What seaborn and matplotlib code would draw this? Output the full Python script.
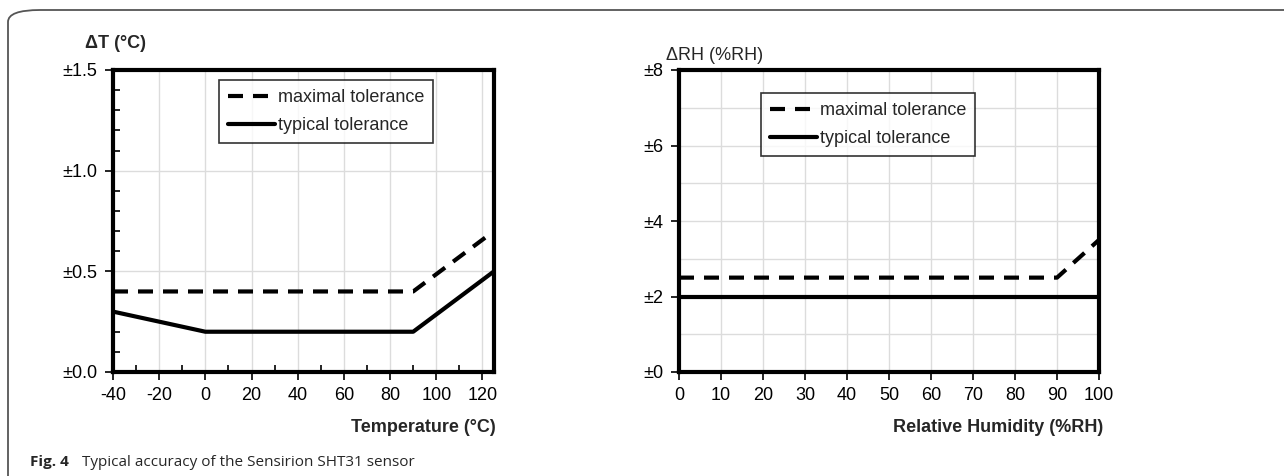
import matplotlib
matplotlib.use("Agg")
import matplotlib.pyplot as plt
import seaborn as sns
import pandas as pd
import numpy as np
from matplotlib import font_manager
from matplotlib.patches import FancyBboxPatch
from matplotlib.ticker import FixedLocator, FuncFormatter, MultipleLocator

# ---- data ----
temp_x = [-40, 0, 90, 125]
temp_max = [0.4, 0.4, 0.4, 0.7]
temp_typ = [0.3, 0.2, 0.2, 0.5]
rh_x = [0, 90, 100]
rh_max = [2.5, 2.5, 3.5]
rh_typ = [2.0, 2.0, 2.0]
temp_xticks = [-40, -20, 0, 20, 40, 60, 80, 100, 120]
temp_yticks = [0.0, 0.5, 1.0, 1.5]
rh_xticks = list(range(0, 101, 10))
rh_yticks = [0, 2, 4, 6, 8]
series_names = ["maximal tolerance", "typical tolerance"]

sns.set_theme(style="white")
names = {f.name for f in font_manager.fontManager.ttflist}
narrow = "Liberation Sans Narrow" if "Liberation Sans Narrow" in names else "Liberation Sans"
plt.rcParams["font.family"] = [narrow, "DejaVu Sans"]

W, H = 1284, 476
fig = plt.figure(figsize=(W / 100, H / 100), dpi=100)

def ax_rect(x0, x1, ytop, ybot):
    return [x0 / W, 1 - ybot / H, (x1 - x0) / W, (ybot - ytop) / H]

axL = fig.add_axes(ax_rect(113, 494, 70, 372))
axR = fig.add_axes(ax_rect(679, 1099, 70, 372))

dash = (3.6, 2.4)
lw = 3

dfT = pd.DataFrame({"x": temp_x * 2, "y": temp_max + temp_typ,
                    "s": [series_names[0]] * 4 + [series_names[1]] * 4})
dfR = pd.DataFrame({"x": rh_x * 2, "y": rh_max + rh_typ,
                    "s": [series_names[0]] * 3 + [series_names[1]] * 3})

for ax, df in [(axL, dfT), (axR, dfR)]:
    sns.lineplot(data=df, x="x", y="y", style="s", style_order=series_names,
                 dashes={series_names[0]: dash, series_names[1]: ""},
                 color="black", lw=lw, ax=ax, legend=True, zorder=3)
    for sp in ax.spines.values():
        sp.set_visible(True)
        sp.set_color("black")
        sp.set_linewidth(3)
    ax.set_xlabel("")
    ax.set_ylabel("")

# left axes
axL.set_xlim(-40, 125)
axL.set_ylim(0, 1.5)
axL.set_xticks(temp_xticks)
axL.set_yticks(temp_yticks)
axL.yaxis.set_major_formatter(FuncFormatter(lambda v, p: f"±{v:.1f}"))
axL.xaxis.set_major_formatter(FuncFormatter(lambda v, p: f"{v:.0f}"))
axL.xaxis.set_minor_locator(MultipleLocator(10))
axL.yaxis.set_minor_locator(MultipleLocator(0.1))
axL.tick_params(which="major", direction="out", length=6, width=1.2, colors="black",
                labelsize=13, bottom=True, left=True, pad=5)
axL.tick_params(which="minor", direction="in", length=5, width=1.2, colors="black",
                bottom=True, left=True)
for v in temp_xticks[1:]:
    axL.axvline(v, color="#dcdcdc", lw=1, zorder=1)
for v in [0.5, 1.0]:
    axL.axhline(v, color="#dcdcdc", lw=1, zorder=1)

# right axes
axR.set_xlim(0, 100)
axR.set_ylim(0, 8)
axR.set_xticks(rh_xticks)
axR.set_yticks(rh_yticks)
axR.yaxis.set_major_formatter(FuncFormatter(lambda v, p: f"±{v:.0f}"))
axR.tick_params(which="major", direction="out", length=6, width=1.2, colors="black",
                labelsize=13, bottom=True, left=True, pad=5)
for v in rh_xticks[1:-1]:
    axR.axvline(v, color="#dcdcdc", lw=1, zorder=1)
for v in range(1, 8):
    axR.axhline(v, color="#dcdcdc", lw=1, zorder=1)

# legends
for ax, loc in [(axL, (219, 80, 414, 152)), (axR, (761, 93, 1013, 157))]:
    h, l = ax.get_legend_handles_labels()
    x0, y0, x1, y1 = loc
    leg = ax.legend(h, l, loc="upper left",
                    bbox_to_anchor=(x0 / W, 1 - y0 / H), bbox_transform=fig.transFigure,
                    fontsize=13, frameon=True, fancybox=False, edgecolor="black",
                    handlelength=2.6, handletextpad=0.15, borderpad=0.5,
                    labelspacing=0.6, borderaxespad=0)
    leg.get_frame().set_linewidth(1.2)
    for ln in leg.get_lines():
        ln.set_linewidth(3)

# axis titles
fig.text(85 / W, 1 - 43 / H, "ΔT (°C)", fontsize=13, fontweight="bold",
         ha="left", va="center")
fig.text(666 / W, 1 - 55 / H, "ΔRH (%RH)", fontsize=13, ha="left", va="center")
fig.text(496 / W, 1 - 428 / H, "Temperature (°C)", fontsize=13, fontweight="bold",
         ha="right", va="center")
fig.text(1103 / W, 1 - 428 / H, "Relative Humidity (%RH)", fontsize=13,
         fontweight="bold", ha="right", va="center")

# caption
cap_font = ["Open Sans", "DejaVu Sans"]
fig.text(30 / W, 1 - 462 / H, "Fig. 4", fontsize=11, fontweight="bold",
         family=cap_font, ha="left", va="center")
fig.text(82 / W, 1 - 462 / H, "Typical accuracy of the Sensirion SHT31 sensor",
         fontsize=11, family=cap_font, ha="left", va="center")

# frame
frame = FancyBboxPatch((8 / W, -0.2), 1.2, (1 - 10 / H) + 0.2,
                       boxstyle="round,pad=0,rounding_size=0.025",
                       transform=fig.transFigure, facecolor="none",
                       edgecolor="#555555", lw=1.3, mutation_aspect=H / W * 2.7)
fig.patches.append(frame)

fig.savefig("out.png", dpi=100)
